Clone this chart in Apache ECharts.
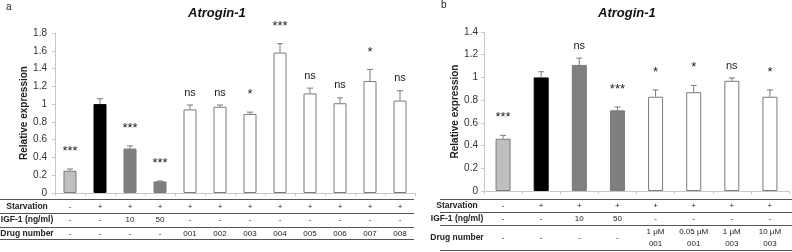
<!DOCTYPE html>
<html>
<head>
<meta charset="utf-8">
<script src="https://cdn.jsdelivr.net/npm/echarts@6/dist/echarts.min.js"></script>
<style>
  html, body { margin: 0; background: #fff; }
  #chart { width: 792px; height: 252px; }
</style>
</head>
<body>
<div id="chart"></div>
<script>
// panel a
var starvA = ["-", "+", "+", "+", "+", "+", "+", "+", "+", "+", "+", "+"];
var igfA = ["-", "-", "10", "50", "-", "-", "-", "-", "-", "-", "-", "-"];
var drugA = ["-", "-", "-", "-", "001", "002", "003", "004", "005", "006", "007", "008"];
var valA = [0.25, 1.0, 0.5, 0.13, 0.94, 0.97, 0.89, 1.58, 1.12, 1.01, 1.26, 1.04];
var errA = [0.02, 0.06, 0.03, 0.005, 0.05, 0.02, 0.02, 0.1, 0.06, 0.06, 0.13, 0.11];
var sigA = ["***", "", "***", "***", "ns", "ns", "*", "***", "ns", "ns", "*", "ns"];

// panel b
var starvB = ["-", "+", "+", "+", "+", "+", "+", "+"];
var igfB = ["-", "-", "10", "50", "-", "-", "-", "-"];
var drugB = ["-", "-", "-", "-", "1 μM\n001", "0.05 μM\n001", "1 μM\n003", "10 μM\n003"];
var valB = [0.46, 1.0, 1.11, 0.71, 0.83, 0.87, 0.97, 0.83];
var errB = [0.03, 0.05, 0.06, 0.03, 0.06, 0.06, 0.025, 0.06];
var sigB = ["***", "", "ns", "***", "*", "*", "ns", "*"];

var rowNames = ["Starvation", "IGF-1 (ng/ml)", "Drug number"];

var font = "Liberation Sans, Arial, sans-serif";
var chart = echarts.init(document.getElementById("chart"));

function barColor(i) {
  if (i == 0) return "#bfbfbf";
  if (i == 1) return "#000000";
  if (i < 4) return "#7f7f7f";
  return "#ffffff";
}

function barSeries(idx, vals, width) {
  return {
    type: "bar",
    xAxisIndex: idx * 3,
    yAxisIndex: idx,
    barWidth: width,
    data: vals.map(function (v, i) {
      return {
        value: v,
        itemStyle: {
          color: barColor(i),
          borderColor: i == 1 ? "#000" : "#7a7a7a",
          borderWidth: 1,
        },
      };
    }),
    silent: true,
  };
}

// error bar (upper only) + significance text
function errSeries(idx, vals, errs, sigs) {
  return {
    type: "custom",
    xAxisIndex: idx * 3,
    yAxisIndex: idx,
    clip: false,
    silent: true,
    z: 5,
    data: vals.map(function (v, i) {
      return [i, v, errs[i]];
    }),
    renderItem: function (params, api) {
      var i = api.value(0);
      var base = api.coord([i, api.value(1)]);
      var top = api.coord([i, api.value(1) + api.value(2)]);
      var sig = sigs[params.dataIndex];
      var star = sig.indexOf("*") >= 0;
      return {
        type: "group",
        children: [
          {
            type: "line",
            shape: { x1: base[0], y1: base[1], x2: top[0], y2: top[1] },
            style: { stroke: "#7a7a7a", lineWidth: 1 },
          },
          {
            type: "line",
            shape: { x1: top[0] - 3, y1: top[1], x2: top[0] + 3, y2: top[1] },
            style: { stroke: "#7a7a7a", lineWidth: 1 },
          },
          {
            type: "text",
            x: top[0],
            y: top[1] - (star ? 11 : 7),
            style: {
              text: sig,
              fill: "#222",
              font: (star ? "13px " : "11px ") + font,
              align: "center",
              verticalAlign: "bottom",
            },
          },
        ],
      };
    },
  };
}

// one category axis per table row
function rowAxis(grid, data, margin, lineH) {
  return {
    type: "category",
    gridIndex: grid,
    data: data,
    position: "bottom",
    axisLine: { show: false },
    axisTick: { show: false },
    axisLabel: {
      interval: 0,
      margin: margin,
      verticalAlign: "middle",
      fontSize: 8,
      lineHeight: lineH || 10,
      color: "#222",
      fontFamily: font,
    },
  };
}

function mainAxis(grid, data, margin) {
  var ax = rowAxis(grid, data, margin);
  ax.axisLine = { show: true, lineStyle: { color: "#c8c8c8" } };
  ax.axisTick = { show: true, length: 3, lineStyle: { color: "#c8c8c8" } };
  return ax;
}

function yAxis(grid, max, gap, labelMargin) {
  return {
    type: "value",
    gridIndex: grid,
    min: 0,
    max: max,
    interval: 0.2,
    name: "Relative expression",
    nameLocation: "middle",
    nameGap: gap,
    nameTextStyle: { fontSize: 10, fontWeight: "bold", color: "#222", fontFamily: font },
    axisLine: { show: true, lineStyle: { color: "#c8c8c8" } },
    axisTick: { show: true, length: 3, lineStyle: { color: "#c8c8c8" } },
    axisLabel: { fontSize: 10, color: "#333", margin: labelMargin, fontFamily: font },
    splitLine: { show: false },
  };
}

function hline(x1, x2, y) {
  return {
    type: "line",
    shape: { x1: x1, y1: y, x2: x2, y2: y },
    style: { stroke: "#555", lineWidth: 1 },
    silent: true,
  };
}

function rowLabel(x, y, text) {
  return {
    type: "text",
    x: x,
    y: y,
    style: {
      text: text,
      font: "bold 8.5px " + font,
      fill: "#222",
      align: "center",
      verticalAlign: "middle",
    },
  };
}

var graphics = [
  { type: "text", x: 6, y: 2, style: { text: "a", font: "10px " + font, fill: "#222" } },
  { type: "text", x: 441, y: 0, style: { text: "b", font: "10px " + font, fill: "#222" } },
  hline(0, 414, 199.5),
  hline(0, 414, 213.5),
  hline(0, 414, 227.5),
  hline(0, 414, 239.5),
  hline(440, 792, 199.5),
  hline(440, 792, 212.5),
  hline(440, 792, 225.5),
  hline(440, 792, 250.5),
  rowLabel(27, 207, rowNames[0]),
  rowLabel(27, 220, rowNames[1]),
  rowLabel(27, 234, rowNames[2]),
  rowLabel(457, 206, rowNames[0]),
  rowLabel(457, 219, rowNames[1]),
  rowLabel(457, 238, rowNames[2]),
];

chart.setOption({
  animation: false,
  backgroundColor: "#fff",
  title: [
    {
      text: "Atrogin-1",
      left: 188,
      top: 7,
      padding: 0,
      textStyle: { fontSize: 13, fontWeight: "bold", fontStyle: "italic", color: "#111", fontFamily: font },
    },
    {
      text: "Atrogin-1",
      left: 598,
      top: 7,
      padding: 0,
      textStyle: { fontSize: 13, fontWeight: "bold", fontStyle: "italic", color: "#111", fontFamily: font },
    },
  ],
  grid: [
    { left: 55, right: 377, top: 33, bottom: 59 },
    { left: 484, right: 3, top: 32, bottom: 61 },
  ],
  xAxis: [
    mainAxis(0, starvA, 14),
    rowAxis(0, igfA, 27),
    rowAxis(0, drugA, 41),
    mainAxis(1, starvB, 15),
    rowAxis(1, igfB, 28),
    rowAxis(1, drugB, 47, 12),
  ],
  yAxis: [yAxis(0, 1.8, 25, 8), yAxis(1, 1.4, 15, 6)],
  series: [
    barSeries(0, valA, 13),
    errSeries(0, valA, errA, sigA),
    barSeries(1, valB, 15),
    errSeries(1, valB, errB, sigB),
  ],
  graphic: graphics,
});
</script>
</body>
</html>
